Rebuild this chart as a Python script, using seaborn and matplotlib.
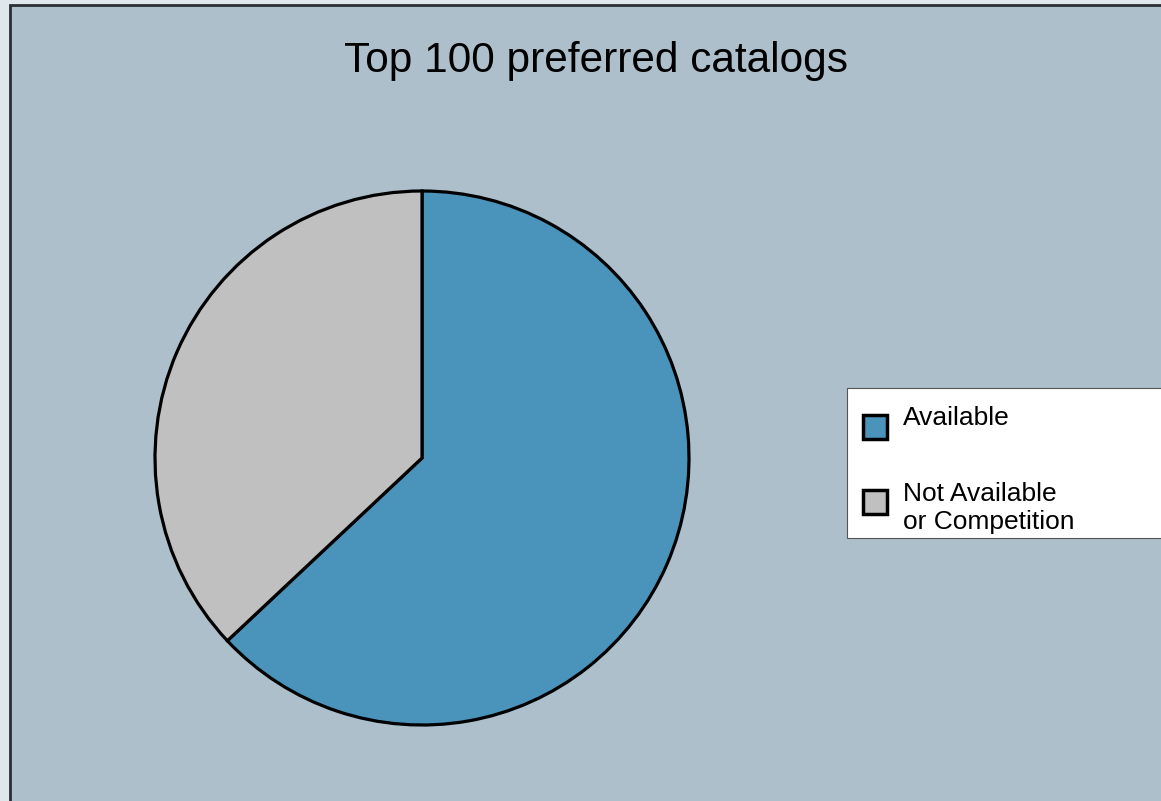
"""Pie chart: share of the top 100 preferred catalogs that are available."""
import matplotlib
matplotlib.use("Agg")
import matplotlib.pyplot as plt
from matplotlib.patches import Rectangle
import seaborn as sns

labels = ["Available", "Not Available\nor Competition"]
shares = [63, 37]
colors = ["#4a94bc", "#c0c0c0"]
title = "Top 100 preferred catalogs"

W, H = 1161, 801


def fx(x):
    return x / W


def fy(y):
    return 1 - y / H


sns.set_theme(style="white")
plt.rcParams["font.family"] = ["Liberation Sans", "DejaVu Sans"]

fig = plt.figure(figsize=(W / 100, H / 100), dpi=100)
fig.patch.set_facecolor("#dfe6ec")

# panel behind the chart
fig.add_artist(Rectangle((fx(10), fy(H + 10)), fx(W), fy(5) - fy(H + 10),
                         transform=fig.transFigure, facecolor="#adbfcb",
                         edgecolor="#2b2f34", linewidth=2, zorder=0))

# pie, centre (422, 458), radius 267 px
cx, cy, r = 422, 458, 267
ax = fig.add_axes([fx(cx - r), fy(cy + r), 2 * r / W, 2 * r / H])
ax.set_facecolor("none")
ax.pie(shares, colors=colors, startangle=90, counterclock=False, radius=1,
       wedgeprops=dict(edgecolor="black", linewidth=2.3))
ax.set_xlim(-1, 1)
ax.set_ylim(-1, 1)
ax.set_aspect("auto")
ax.axis("off")

fig.text(fx(596), fy(61), title, ha="center", va="center", fontsize=30.5, color="black")

# legend box, runs off the right edge
fig.add_artist(Rectangle((fx(847), fy(538)), fx(W), fy(388) - fy(538),
                         transform=fig.transFigure, facecolor="white",
                         edgecolor="#555555", linewidth=0.8, zorder=2))
marker_y = [427, 502]
text_y = [418, 508]
for lab, col, my, ty in zip(labels, colors, marker_y, text_y):
    fig.add_artist(Rectangle((fx(863), fy(my + 12)), 24 / W, 24 / H,
                             transform=fig.transFigure, facecolor=col,
                             edgecolor="black", linewidth=2.5, zorder=3))
    fig.text(fx(903), fy(ty), lab, ha="left", va="center", fontsize=19,
             color="black", linespacing=1.2, zorder=4)

fig.savefig("out.png", dpi=100, facecolor=fig.get_facecolor())
plt.close(fig)
